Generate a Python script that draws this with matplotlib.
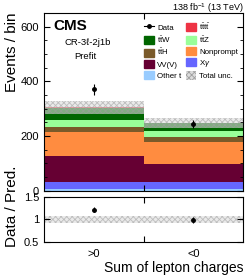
import numpy as np
import matplotlib
matplotlib.use("Agg")
import matplotlib.pyplot as plt
from matplotlib.patches import Patch
from matplotlib.lines import Line2D

plt.rcParams['font.family'] = ['Liberation Sans', 'DejaVu Sans']
plt.rcParams['hatch.linewidth'] = 0.6
plt.rcParams['mathtext.fontset'] = 'custom'
plt.rcParams['mathtext.rm'] = 'Liberation Sans'
plt.rcParams['mathtext.it'] = 'Liberation Sans:italic'

bins = [">0", "<0"]
data = [370, 243]
procs = ["Other t", r"X$\gamma$", "VV(V)", "Nonprompt", r"t$\bar{\rm t}$H", r"t$\bar{\rm t}$Z", r"t$\bar{\rm t}$W", r"t$\bar{\rm t}$t$\bar{\rm t}$"]
yields = {
    "Other t": [5, 5],
    r"X$\gamma$": [28, 28],
    "VV(V)": [93, 64],
    "Nonprompt": [90, 80],
    r"t$\bar{\rm t}$H": [18, 18],
    r"t$\bar{\rm t}$Z": [25, 24],
    r"t$\bar{\rm t}$W": [44, 27],
    r"t$\bar{\rm t}$t$\bar{\rm t}$": [1, 1],
}
colors = {
    "Other t": "#99ccff",
    r"X$\gamma$": "#6666ff",
    "VV(V)": "#660033",
    "Nonprompt": "#ff8c40",
    r"t$\bar{\rm t}$H": "#7a5a2a",
    r"t$\bar{\rm t}$Z": "#99ff99",
    r"t$\bar{\rm t}$W": "#006600",
    r"t$\bar{\rm t}$t$\bar{\rm t}$": "#ee3344",
}
unc = [22, 17]

x = np.arange(len(bins))
fig = plt.figure(figsize=(2.49, 2.75), dpi=100)
ax = fig.add_axes([0.177, 0.307, 0.799, 0.646])
rax = fig.add_axes([0.177, 0.119, 0.799, 0.166])

bottom = np.zeros(len(bins))
for p in procs:
    ax.bar(x, yields[p], width=1, align='edge', bottom=bottom, color=colors[p], linewidth=0)
    bottom += np.array(yields[p])
total = bottom
unc = np.array(unc)
ax.bar(x, 2 * unc, width=1, align='edge', bottom=total - unc, facecolor='#dcdcdc', alpha=0.6,
       edgecolor='#a0a0a0', hatch='xxxxxx', linewidth=0)
ax.errorbar(x + 0.5, data, yerr=np.sqrt(data), fmt='o', color='black', ms=2.5, elinewidth=0.8, capsize=0)

ax.set_xlim(0, 2)
ax.set_ylim(0, 650)
ax.set_yticks([0, 200, 400, 600])
ax.set_yticks(np.arange(0, 651, 50), minor=True)
ax.set_xticks([1])
ax.set_xticklabels([])
ax.tick_params(which='both', direction='in', top=True, right=True, labelsize=8)
ax.tick_params(which='major', length=4)
ax.tick_params(which='minor', length=2)
ax.set_ylabel("Events / bin", fontsize=11)
ax.yaxis.set_label_coords(-0.125, 0.78)

ax.text(0.045, 0.925, "CMS", transform=ax.transAxes, fontsize=11, fontweight='bold', va='center')
ax.text(0.22, 0.835, "CR-3\u2113-2j1b", transform=ax.transAxes, fontsize=6.8, ha='center', va='center')
ax.text(0.21, 0.755, "Prefit", transform=ax.transAxes, fontsize=6.8, ha='center', va='center')
fig.text(0.976, 0.997, r"138 fb$^{-1}$ (13 TeV)", fontsize=6.5, ha='right', va='top')

handles = [Line2D([], [], marker='o', color='black', ms=2.5, lw=0.8),
           Patch(color=colors[r"t$\bar{\rm t}$W"]),
           Patch(color=colors[r"t$\bar{\rm t}$H"]),
           Patch(color=colors["VV(V)"]),
           Patch(color=colors["Other t"]),
           Patch(color=colors[r"t$\bar{\rm t}$t$\bar{\rm t}$"]),
           Patch(color=colors[r"t$\bar{\rm t}$Z"]),
           Patch(color=colors["Nonprompt"]),
           Patch(color=colors[r"X$\gamma$"]),
           Patch(facecolor='#dcdcdc', edgecolor='#a0a0a0', hatch='xxxxxx', linewidth=0)]
labels = ["Data", r"t$\bar{\rm t}$W", r"t$\bar{\rm t}$H", "VV(V)", "Other t",
          r"t$\bar{\rm t}$t$\bar{\rm t}$", r"t$\bar{\rm t}$Z", "Nonprompt", r"X$\gamma$", "Total unc."]
ax.legend(handles, labels, ncol=2, loc='upper left', bbox_to_anchor=(0.48, 0.975), frameon=False,
          fontsize=5.7, handlelength=1.3, handleheight=1.2, columnspacing=0.6, labelspacing=0.3,
          handletextpad=0.4, borderpad=0)

ratio = np.array(data) / total
rerr = np.sqrt(data) / total
rax.bar(x, 2 * unc / total, width=1, align='edge', bottom=1 - unc / total, facecolor='#dcdcdc', alpha=0.6,
        edgecolor='#a0a0a0', hatch='xxxxxx', linewidth=0)
rax.errorbar(x + 0.5, ratio, yerr=rerr, fmt='o', color='black', ms=2.5, elinewidth=0.8, capsize=0)
rax.set_xlim(0, 2)
rax.set_ylim(0.5, 1.5)
rax.set_yticks([0.5, 1, 1.5])
rax.set_yticklabels(["0.5", "1", "1.5"])
rax.set_xticks([1])
rax.set_xticklabels([])
rax.set_xticks(x + 0.5, minor=True)
rax.set_xticklabels(bins, minor=True)
rax.tick_params(which='both', direction='in', top=True, right=True, labelsize=8)
rax.tick_params(which='major', length=4)
rax.tick_params(axis='x', which='minor', length=0, pad=5)
rax.set_ylabel("Data / Pred.", fontsize=11)
rax.yaxis.set_label_coords(-0.125, 0.78)
rax.set_xlabel("Sum of lepton charges", fontsize=10, ha='right')
rax.xaxis.set_label_coords(1.0, -0.42)

fig.savefig("out.png", dpi=100)
